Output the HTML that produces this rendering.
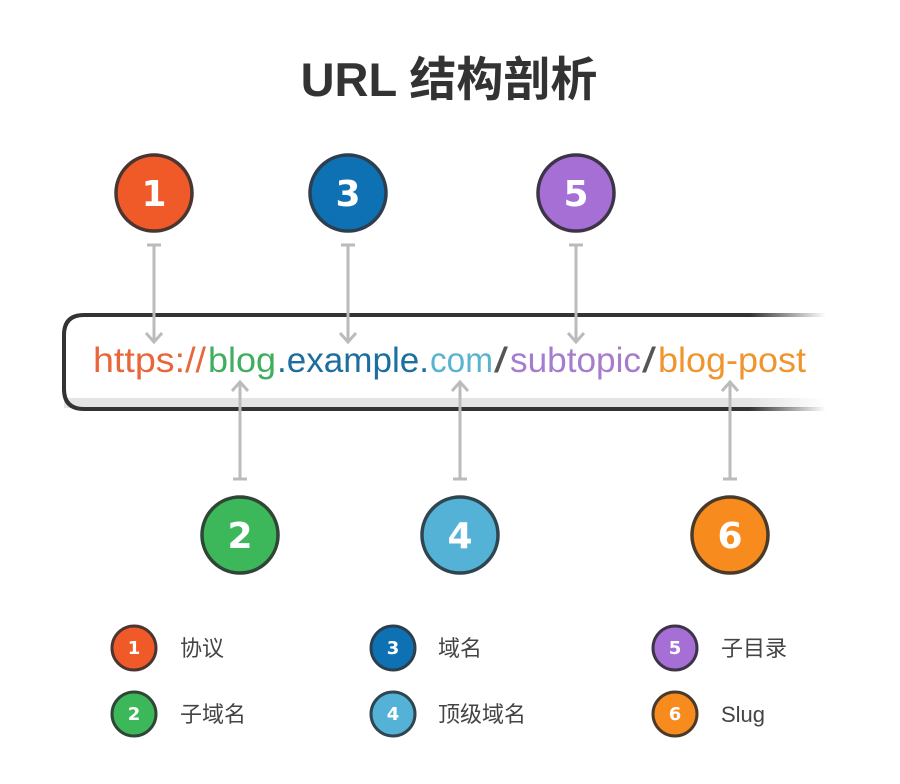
<!DOCTYPE html>
<html><head><meta charset="utf-8"><style>
html,body{margin:0;padding:0;background:#fff;}
svg{display:block;}
</style></head><body>
<svg width="900" height="784" viewBox="0 0 900 784" xmlns="http://www.w3.org/2000/svg">
<defs>
<linearGradient id="fade" x1="0" x2="1" y1="0" y2="0">
<stop offset="0" stop-color="#333"/><stop offset="0.9" stop-color="#333"/><stop offset="1" stop-color="#333" stop-opacity="0"/>
</linearGradient>
<linearGradient id="fade2" x1="0" x2="1" y1="0" y2="0">
<stop offset="0" stop-color="#e4e4e4"/><stop offset="0.9" stop-color="#e4e4e4"/><stop offset="1" stop-color="#e4e4e4" stop-opacity="0"/>
</linearGradient>
</defs>
<text x="449" y="96" text-anchor="middle" font-family="Liberation Sans, Noto Sans CJK SC, sans-serif" font-weight="bold" font-size="47" fill="#333">URL 结构剖析</text>

<!-- URL box -->
<rect x="64" y="398" width="762" height="10" fill="url(#fade2)"/>
<path d="M826 315 H84 Q64 315 64 335 V389 Q64 409 84 409 H826" fill="none" stroke="url(#fade)" stroke-width="4"/>

<g font-family="Liberation Sans, sans-serif" font-size="35">
<text x="93" y="372" fill="#e8663a" textLength="113" lengthAdjust="spacingAndGlyphs">https://</text>
<text x="208" y="372" fill="#3fae5e" textLength="68" lengthAdjust="spacingAndGlyphs">blog</text>
<text x="277" y="372" fill="#1b6e9e" textLength="152" lengthAdjust="spacingAndGlyphs">.example.</text>
<text x="430" y="372" fill="#5ab3cf" textLength="63" lengthAdjust="spacingAndGlyphs">com</text>
<text x="494" y="372" fill="#555" textLength="14" lengthAdjust="spacingAndGlyphs">/</text>
<text x="510" y="372" fill="#a67ccf" textLength="131" lengthAdjust="spacingAndGlyphs">subtopic</text>
<text x="642" y="372" fill="#555" textLength="14" lengthAdjust="spacingAndGlyphs">/</text>
<text x="658" y="372" fill="#f0952e" textLength="148" lengthAdjust="spacingAndGlyphs">blog-post</text>
</g>

<!-- connectors -->
<g stroke="#bbb" stroke-width="3" fill="none" stroke-linecap="butt">
<path d="M147 245 H161 M154 245 V342 M146 333 L154 342 L162 333"/>
<path d="M341 245 H355 M348 245 V342 M340 333 L348 342 L356 333"/>
<path d="M569 245 H583 M576 245 V342 M568 333 L576 342 L584 333"/>
<path d="M233 479 H247 M240 479 V382 M232 391 L240 382 L248 391"/>
<path d="M453 479 H467 M460 479 V382 M452 391 L460 382 L468 391"/>
<path d="M723 479 H737 M730 479 V382 M722 391 L730 382 L738 391"/>
</g>

<!-- big circles -->
<g stroke-width="3.5" font-family="DejaVu Sans, Liberation Sans, sans-serif" font-weight="bold" font-size="36" fill="#fff" text-anchor="middle">
<circle cx="154" cy="193" r="38" fill="#f05a28" stroke="#4a3530"/>
<circle cx="348" cy="193" r="38" fill="#0d71b3" stroke="#2d3e4e"/>
<circle cx="576" cy="193" r="38" fill="#a56fd6" stroke="#3e3448"/>
<circle cx="240" cy="535" r="38" fill="#3cb85a" stroke="#2f4536"/>
<circle cx="460" cy="535" r="38" fill="#54b2d6" stroke="#2f4550"/>
<circle cx="730" cy="535" r="38" fill="#f88b1e" stroke="#4a3a2a"/>
<g stroke="none">
<text x="154" y="206">1</text><text x="348" y="206">3</text><text x="576" y="206">5</text>
<text x="240" y="548">2</text><text x="460" y="548">4</text><text x="730" y="548">6</text>
</g>
</g>

<!-- legend -->
<g stroke-width="3" font-family="DejaVu Sans, Liberation Sans, sans-serif" font-weight="bold" font-size="18" fill="#fff" text-anchor="middle">
<circle cx="134" cy="648" r="22" fill="#f05a28" stroke="#4a3530"/>
<circle cx="393" cy="648" r="22" fill="#0d71b3" stroke="#2d3e4e"/>
<circle cx="675" cy="648" r="22" fill="#a56fd6" stroke="#3e3448"/>
<circle cx="134" cy="714" r="22" fill="#3cb85a" stroke="#2f4536"/>
<circle cx="393" cy="714" r="22" fill="#54b2d6" stroke="#2f4550"/>
<circle cx="675" cy="714" r="22" fill="#f88b1e" stroke="#4a3a2a"/>
<g stroke="none">
<text x="134" y="654">1</text><text x="393" y="654">3</text><text x="675" y="654">5</text>
<text x="134" y="720">2</text><text x="393" y="720">4</text><text x="675" y="720">6</text>
</g>
</g>
<g font-family="Liberation Sans, Noto Sans CJK SC, sans-serif" font-size="22" fill="#444">
<text x="180" y="656">协议</text>
<text x="438" y="656">域名</text>
<text x="721" y="656">子目录</text>
<text x="180" y="722">子域名</text>
<text x="438" y="722">顶级域名</text>
<text x="721" y="722">Slug</text>
</g>
</svg>
</body></html>
